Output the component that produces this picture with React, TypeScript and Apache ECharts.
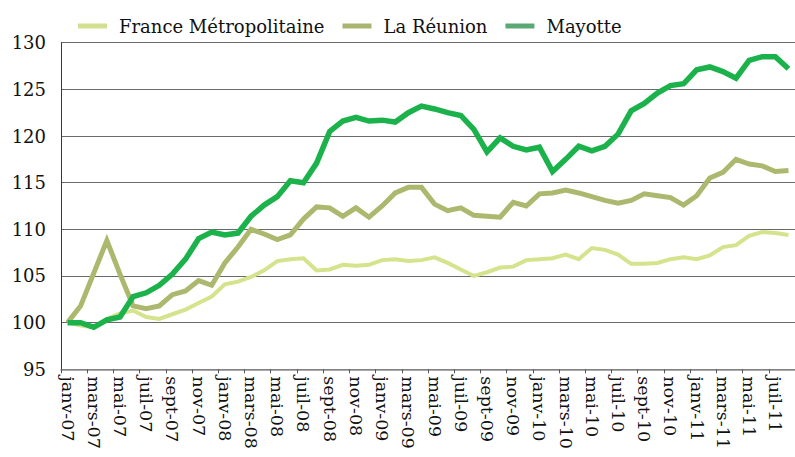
import React, { useEffect, useRef } from "react";
import * as echarts from "echarts";

const categories = [
  "janv-07","févr-07","mars-07","avr-07","mai-07","juin-07","juil-07","août-07","sept-07","oct-07","nov-07","déc-07",
  "janv-08","févr-08","mars-08","avr-08","mai-08","juin-08","juil-08","août-08","sept-08","oct-08","nov-08","déc-08",
  "janv-09","févr-09","mars-09","avr-09","mai-09","juin-09","juil-09","août-09","sept-09","oct-09","nov-09","déc-09",
  "janv-10","févr-10","mars-10","avr-10","mai-10","juin-10","juil-10","août-10","sept-10","oct-10","nov-10","déc-10",
  "janv-11","févr-11","mars-11","avr-11","mai-11","juin-11","juil-11","août-11",
];

const franceMetropolitaine = [
  100.0, 99.7, 99.5, 100.4, 101.0, 101.3, 100.6, 100.4, 100.9, 101.4, 102.1, 102.8,
  104.1, 104.4, 104.9, 105.6, 106.6, 106.8, 106.9, 105.6, 105.7, 106.2, 106.1, 106.2,
  106.7, 106.8, 106.6, 106.7, 107.0, 106.4, 105.7, 105.0, 105.4, 105.9, 106.0, 106.7,
  106.8, 106.9, 107.3, 106.8, 108.0, 107.8, 107.3, 106.3, 106.3, 106.4, 106.8, 107.0,
  106.8, 107.2, 108.1, 108.3, 109.3, 109.7, 109.6, 109.4,
];

const laReunion = [
  100.0, 101.8, 105.3, 108.8, 105.2, 101.8, 101.5, 101.8, 103.0, 103.4, 104.5, 104.0,
  106.4, 108.1, 110.0, 109.5, 108.9, 109.4, 111.1, 112.4, 112.3, 111.4, 112.3, 111.3,
  112.5, 113.9, 114.5, 114.5, 112.7, 112.0, 112.3, 111.5, 111.4, 111.3, 112.9, 112.5,
  113.8, 113.9, 114.2, 113.9, 113.5, 113.1, 112.8, 113.1, 113.8, 113.6, 113.4, 112.6,
  113.6, 115.5, 116.1, 117.5, 117.0, 116.8, 116.2, 116.3,
];

const mayotte = [
  100.0, 100.0, 99.5, 100.3, 100.6, 102.8, 103.2, 104.0, 105.2, 106.8, 109.0, 109.7,
  109.4, 109.6, 111.4, 112.6, 113.5, 115.2, 115.0, 117.1, 120.5, 121.6, 122.0, 121.6,
  121.7, 121.5, 122.5, 123.2, 122.9, 122.5, 122.2, 120.7, 118.3, 119.8, 118.9, 118.5,
  118.8, 116.2, 117.5, 118.9, 118.4, 118.9, 120.2, 122.7, 123.5, 124.6, 125.4, 125.6,
  127.1, 127.4, 126.9, 126.2, 128.1, 128.5, 128.5, 127.2,
];

const seriesNames = ["France Métropolitaine", "La Réunion", "Mayotte"];
const lineColors = ["#d5e38c", "#abb86e", "#1cb24b"];
const legendColors = ["#d3e08f", "#a9b46f", "#5aa873"];
const lineWidths = [4, 5, 5.5];

const FONT = "DejaVu Serif";

export default function App() {
  const ref = useRef<HTMLDivElement>(null);

  useEffect(() => {
    if (!ref.current) return;
    const chart = echarts.init(ref.current, undefined, { renderer: "svg" });
    const dataSets = [franceMetropolitaine, laReunion, mayotte];
    chart.setOption({
      animation: false,
      backgroundColor: "#ffffff",
      legend: {
        left: 73,
        top: 12,
        itemWidth: 29,
        itemHeight: 5,
        itemGap: 18,
        icon: "rect",
        textStyle: {
          fontFamily: FONT,
          fontSize: 18,
          color: "#111111",
          padding: [0, 0, 0, 7],
        },
        data: seriesNames.map((n, i) => ({
          name: n,
          itemStyle: { color: legendColors[i] },
        })),
      },
      grid: {
        left: 61,
        top: 42.7,
        width: 739.2,
        height: 326.6,
        containLabel: false,
      },
      xAxis: {
        type: "category",
        data: categories,
        boundaryGap: true,
        axisLine: { show: true, lineStyle: { color: "#8c8c8c", width: 1.5 } },
        axisTick: {
          show: true,
          interval: 1,
          length: 4,
          lineStyle: { color: "#555555", width: 1 },
        },
        axisLabel: {
          interval: 1,
          rotate: -90,
          margin: 7,
          fontFamily: FONT,
          fontSize: 17.5,
          color: "#111111",
        },
        splitLine: { show: false },
      },
      yAxis: {
        type: "value",
        min: 95,
        max: 130,
        interval: 5,
        axisLine: { show: true, lineStyle: { color: "#3a3a3a", width: 1 } },
        axisTick: { show: false },
        axisLabel: {
          margin: 15,
          fontFamily: FONT,
          fontSize: 18,
          color: "#111111",
        },
        splitLine: { show: true, lineStyle: { color: "#6a6a6a", width: 1 } },
      },
      series: seriesNames.map((n, i) => ({
        name: n,
        type: "line",
        data: dataSets[i],
        symbol: "none",
        showSymbol: false,
        smooth: false,
        itemStyle: { color: legendColors[i] },
        lineStyle: { color: lineColors[i], width: lineWidths[i], join: "miter" },
        z: 2 + i,
      })),
    });
    return () => chart.dispose();
  }, []);

  return (
    <div
      ref={ref}
      style={{ position: "absolute", left: 0, top: 0, width: 795, height: 457 }}
    />
  );
}
